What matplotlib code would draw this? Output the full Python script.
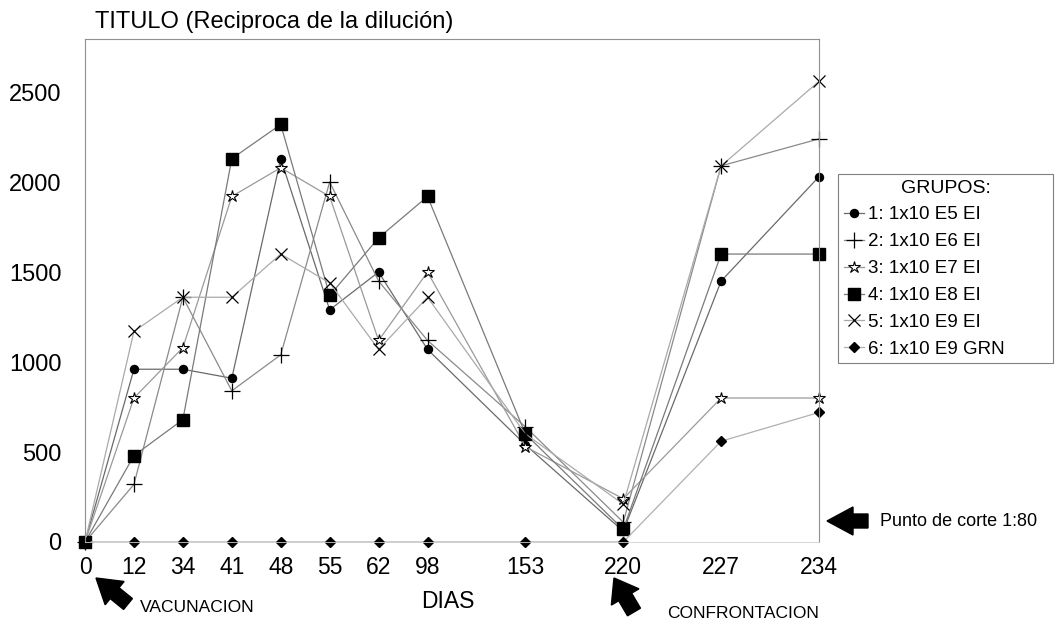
import matplotlib
matplotlib.use('Agg')
import matplotlib.pyplot as plt
from matplotlib.patches import FancyArrow
from matplotlib.transforms import IdentityTransform

plt.rcParams['font.family'] = ['Liberation Sans', 'DejaVu Sans']

# dias de muestreo (eje categorico, con huecos al final)
dias = ['0', '12', '34', '41', '48', '55', '62', '98', '153', '220', '227', '234']
slot = [0, 1, 2, 3, 4, 5, 6, 7, 9, 11, 13, 15]

# titulos por grupo
g1 = [0, 960, 960, 910, 2130, 1290, 1500, 1070, 540, 60, 1450, 2030]
g2 = [0, 320, 1360, 840, 1040, 2000, 1450, 1120, 640, 110, 2090, 2240]
g3 = [0, 800, 1080, 1920, 2080, 1920, 1120, 1500, 530, 240, 800, 800]
g4 = [0, 480, 680, 2130, 2320, 1370, 1690, 1920, 600, 70, 1600, 1600]
g5 = [0, 1170, 1360, 1360, 1600, 1440, 1070, 1360, 600, 210, 2090, 2560]
g6 = [0, 0, 0, 0, 0, 0, 0, 0, 0, 0, 560, 720]

etiquetas = ['1: 1x10 E5 EI', '2: 1x10 E6 EI', '3: 1x10 E7 EI',
             '4: 1x10 E8 EI', '5: 1x10 E9 EI', '6: 1x10 E9 GRN']

W, H = 1060, 626
fig = plt.figure(figsize=(W / 100, H / 100), dpi=100)
ax = fig.add_axes([85 / W, 1 - 542 / H, (819 - 85) / W, (542 - 39) / H])

estilos = [
    dict(marker='o', ms=5.8, mfc='black', mec='black'),
    dict(marker='+', ms=11, mec='black', mew=0.9),
    dict(marker='*', ms=9, mfc='white', mec='black', mew=0.8),
    dict(marker='s', ms=8, mfc='black', mec='black'),
    dict(marker='x', ms=9, mec='black', mew=0.9),
    dict(marker='D', ms=5.5, mfc='black', mec='black'),
]
lineas = ['#6a6a6a', '#8a8a8a', '#9a9a9a', '#7a7a7a', '#aaaaaa', '#b0b0b0']

for serie, est, col, lab in zip([g1, g2, g3, g4, g5, g6], estilos, lineas, etiquetas):
    ax.plot(slot, serie, color=col, lw=0.9, label=lab, clip_on=False, **est)

ax.set_xlim(0, 15)
ax.set_ylim(0, 2795)
ax.set_xticks(slot)
ax.set_xticklabels(dias)
ax.set_yticks([0, 500, 1000, 1500, 2000, 2500])
ax.tick_params(axis='y', length=0, pad=17, labelsize=17)
ax.tick_params(axis='x', length=0, pad=10, labelsize=16.5)
for lado in ['left', 'top', 'right']:
    ax.spines[lado].set_color('#909090')
    ax.spines[lado].set_linewidth(0.8)
ax.spines['bottom'].set_color('#d0d0d0')
ax.spines['bottom'].set_linewidth(0.6)

leg = ax.legend(loc='upper left', mode='expand',
                bbox_to_anchor=(838 / W, 1 - 365 / H, (1053 - 838) / W, (365 - 174) / H),
                bbox_transform=fig.transFigure, borderaxespad=0,
                title='GRUPOS:', fontsize=13.5, title_fontsize=14,
                fancybox=False, framealpha=1, edgecolor='#808080',
                handlelength=1.1, handletextpad=0.2, labelspacing=0.52,
                borderpad=0.3, numpoints=1)
leg.get_frame().set_linewidth(0.8)

fig.text(95 / W, 1 - 22 / H, 'TITULO (Reciproca de la dilución)',
         fontsize=17, va='center', ha='left')
fig.text(448 / W, 1 - 602 / H, 'DIAS', fontsize=16.5, ha='center', va='center')
fig.text(140 / W, 1 - 608 / H, 'VACUNACION', fontsize=12.5, ha='left', va='center')
fig.text(667 / W, 1 - 614 / H, 'CONFRONTACION', fontsize=12.5, ha='left', va='center')
fig.text(880 / W, 1 - 521 / H, 'Punto de corte 1:80', fontsize=13, ha='left', va='center')


def flecha(x0, y0, x1, y1, ancho, cabeza_w, cabeza_l):
    # coordenadas en pixeles de la imagen (y hacia abajo)
    a = FancyArrow(x0, H - y0, x1 - x0, -(y1 - y0), width=ancho,
                   head_width=cabeza_w, head_length=cabeza_l,
                   length_includes_head=True, color='black',
                   transform=IdentityTransform())
    fig.add_artist(a)


flecha(128, 604, 96, 578, 14, 30, 24)
flecha(634, 612, 614, 578, 15, 32, 22)
flecha(868, 521, 827, 521, 14, 28, 26)

fig.savefig('out.png', dpi=100)
